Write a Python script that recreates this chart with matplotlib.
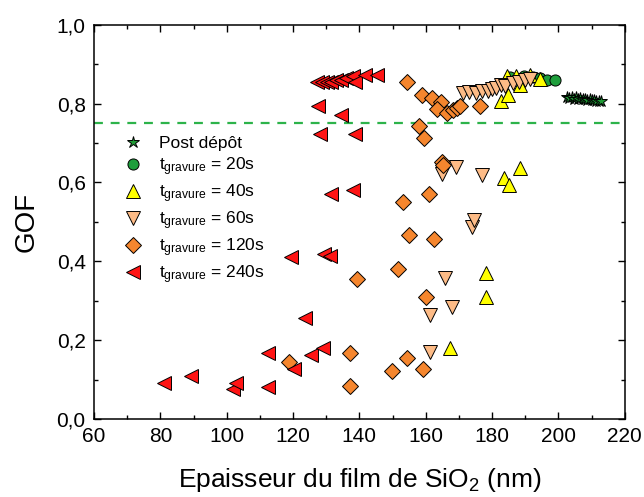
import matplotlib.pyplot as plt
from matplotlib.ticker import MultipleLocator, FuncFormatter

plt.rcParams['font.family'] = ['Liberation Sans', 'DejaVu Sans']
plt.rcParams['mathtext.fontset'] = 'custom'
plt.rcParams['mathtext.rm'] = 'Liberation Sans'
plt.rcParams['mathtext.it'] = 'Liberation Sans'

# Post depot (stars)
x_post = [202.5, 203.2, 204.0, 204.6, 205.3, 206.0, 206.6, 207.3, 208.0, 208.7,
          209.4, 210.1, 210.8, 211.5, 212.3, 213.0]
y_post = [0.818, 0.815, 0.816, 0.813, 0.817, 0.812, 0.814, 0.811, 0.813, 0.810,
          0.811, 0.809, 0.810, 0.808, 0.808, 0.807]

# t = 20s
x_20 = [185.5, 189.5, 192.5, 194.5, 196.5, 199.0]
y_20 = [0.868, 0.870, 0.868, 0.865, 0.861, 0.859]

# t = 40s
x_40 = [167.2, 178.1, 178.1, 183.6, 185.0, 188.5, 182.7, 184.8, 184.5, 187.3,
        188.5, 191.4, 194.5]
y_40 = [0.179, 0.310, 0.371, 0.611, 0.594, 0.636, 0.807, 0.822, 0.869, 0.869,
        0.848, 0.873, 0.862]

# t = 60s
x_60 = [161.2, 161.2, 167.8, 165.7, 174.0, 174.6, 165.0, 169.0, 177.1, 171.3,
        173.0, 175.3, 177.0, 178.8, 180.0, 181.3, 182.8, 184.0, 186.3, 188.0,
        189.9, 191.5]
y_60 = [0.170, 0.263, 0.283, 0.358, 0.486, 0.505, 0.621, 0.640, 0.619, 0.827,
        0.829, 0.827, 0.833, 0.831, 0.836, 0.839, 0.848, 0.845, 0.852, 0.855,
        0.860, 0.862]

# t = 120s
x_120 = [137.1, 137.1, 118.7, 149.8, 154.4, 159.3, 139.4, 151.6, 160.1, 155.1,
         162.4, 153.2, 161.0, 165.0, 165.2, 159.5, 158.1, 154.3, 158.8, 161.9,
         164.6, 163.5, 166.5, 168.2, 169.3, 170.4, 176.5]
y_120 = [0.084, 0.168, 0.145, 0.122, 0.155, 0.128, 0.354, 0.381, 0.310, 0.468,
         0.456, 0.551, 0.572, 0.651, 0.645, 0.714, 0.743, 0.856, 0.822, 0.814,
         0.803, 0.786, 0.776, 0.784, 0.789, 0.793, 0.793]

# t = 240s
x_240 = [81.0, 89.1, 101.9, 102.9, 112.5, 112.5, 120.2, 125.5, 128.9, 123.7,
         119.4, 129.2, 131.1, 131.6, 138.2, 128.0, 138.8, 134.6, 127.4,
         127.1, 128.6, 130.1, 131.6, 133.1, 134.6, 136.1, 138.1, 138.6, 141.6, 145.2]
y_240 = [0.091, 0.109, 0.075, 0.091, 0.080, 0.168, 0.128, 0.162, 0.179, 0.257,
         0.412, 0.418, 0.414, 0.572, 0.580, 0.723, 0.723, 0.771, 0.794,
         0.856, 0.856, 0.856, 0.856, 0.860, 0.860, 0.865, 0.869, 0.856, 0.873, 0.873]

gof_limit = 0.75

fig = plt.figure(figsize=(6.44, 4.97), dpi=100)
ax = fig.add_axes([0.146, 0.157, 0.824, 0.793])

ax.axhline(gof_limit, color='#2db34a', ls=(0, (4, 3.5)), lw=1.6, zorder=1)

ekw = dict(ls='none', mec='black', mew=0.7)
ax.plot(x_post, y_post, '*', ms=9, mfc='#1f9a35', label='Post dépôt', **ekw)
ax.plot(x_20, y_20, 'o', ms=8, mfc='#1e9e3c', label=r't$_{\mathregular{gravure}}$ = 20s', **ekw)
ax.plot(x_40, y_40, '^', ms=10.5, mfc='#ffff00', label=r't$_{\mathregular{gravure}}$ = 40s', **ekw)
ax.plot(x_60, y_60, 'v', ms=10.5, mfc='#fdbb86', label=r't$_{\mathregular{gravure}}$ = 60s', **ekw)
ax.plot(x_120, y_120, 'D', ms=8, mfc='#f5862e', label=r't$_{\mathregular{gravure}}$ = 120s', **ekw)
ax.plot(x_240, y_240, '<', ms=10.5, mfc='#ff1414', label=r't$_{\mathregular{gravure}}$ = 240s', **ekw)

ax.set_xlim(60, 220)
ax.set_ylim(0, 1.0)
ax.xaxis.set_major_locator(MultipleLocator(20))
ax.xaxis.set_minor_locator(MultipleLocator(10))
ax.yaxis.set_major_locator(MultipleLocator(0.2))
ax.yaxis.set_minor_locator(MultipleLocator(0.1))
ax.yaxis.set_major_formatter(FuncFormatter(lambda v, p: ('%.1f' % v).replace('.', ',')))
ax.tick_params(which='both', direction='in', top=True, right=True, labelsize=15, width=1)
ax.tick_params(which='major', length=5, pad=6)
ax.tick_params(which='minor', length=3)
for s in ax.spines.values():
    s.set_linewidth(1.1)

ax.set_xlabel('Epaisseur du film de SiO$_\\mathregular{2}$ (nm)', fontsize=19, labelpad=14)
ax.set_ylabel('GOF', fontsize=20, labelpad=12)

ax.legend(loc='upper left', bbox_to_anchor=(0.038, 0.74), frameon=False, fontsize=12.5,
          handletextpad=0.9, labelspacing=0.25, borderpad=0, handlelength=1.2)

fig.savefig('out.png', dpi=100)
